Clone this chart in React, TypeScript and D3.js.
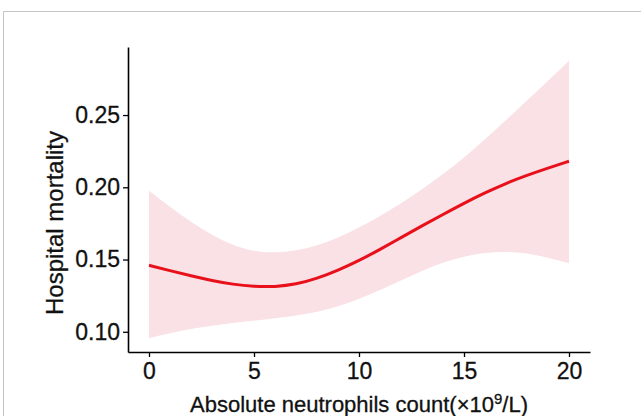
import React, { useEffect, useRef } from "react";
import * as d3 from "d3";

// neutrophil count (x10^9/L)
const counts = [0, 1, 2, 3, 4, 5, 6, 7, 8, 9, 10, 11, 12, 13, 14, 15, 16, 17, 18, 19, 20];
// fitted hospital mortality
const fitted = [0.146, 0.1423, 0.1387, 0.1354, 0.1328, 0.1313, 0.1311, 0.1328, 0.1368, 0.1425, 0.1492, 0.157, 0.1652, 0.1733, 0.1812, 0.189, 0.1962, 0.2028, 0.2083, 0.2133, 0.218];
// 95% CI
const lower = [0.0956, 0.0992, 0.102, 0.1043, 0.1062, 0.1077, 0.1093, 0.1112, 0.1137, 0.1174, 0.1228, 0.1288, 0.1355, 0.1423, 0.148, 0.1523, 0.1548, 0.1556, 0.1545, 0.1515, 0.1474];
const upper = [0.1976, 0.1865, 0.176, 0.1668, 0.1598, 0.1556, 0.1546, 0.156, 0.1595, 0.165, 0.172, 0.18, 0.1888, 0.1985, 0.209, 0.2205, 0.233, 0.2465, 0.26, 0.2738, 0.2875];

const xTicks = [0, 5, 10, 15, 20];
const yTicks = [0.1, 0.15, 0.2, 0.25];

const W = 641;
const H = 416;
const FONT = "'Liberation Sans', Arial, sans-serif";

export default function App() {
  const svgRef = useRef<SVGSVGElement>(null);

  useEffect(() => {
    const svg = d3.select(svgRef.current);
    svg.selectAll("*").remove();

    const left = 128;
    const right = 590;
    const top = 47;
    const bottom = 352;

    // ggplot style 5% expansion
    const xr = d3.extent(counts) as [number, number];
    const xPad = (xr[1] - xr[0]) * 0.05;
    const x = d3.scaleLinear().domain([xr[0] - xPad, xr[1] + xPad]).range([left, right]);

    const yMin = d3.min(lower) as number;
    const yMax = d3.max(upper) as number;
    const yPad = (yMax - yMin) * 0.05;
    const y = d3.scaleLinear().domain([yMin - yPad, yMax + yPad]).range([bottom, top]);

    const rows = counts.map((c, i) => ({ c, f: fitted[i], lo: lower[i], hi: upper[i] }));

    // frame around the figure
    svg
      .append("path")
      .attr("d", `M3.5,${H}V11.5H${W}`)
      .attr("fill", "none")
      .attr("stroke", "#c4c4c4")
      .attr("stroke-width", 1);

    const band = d3
      .area<any>()
      .x((d) => x(d.c))
      .y0((d) => y(d.lo))
      .y1((d) => y(d.hi))
      .curve(d3.curveBasis);

    svg.append("path").datum(rows).attr("d", band).attr("fill", "#f9e1e5");

    const line = d3
      .line<any>()
      .x((d) => x(d.c))
      .y((d) => y(d.f))
      .curve(d3.curveBasis);

    svg
      .append("path")
      .datum(rows)
      .attr("d", line)
      .attr("fill", "none")
      .attr("stroke", "#e8101a")
      .attr("stroke-width", 3);

    const styleText = (sel: any, size: number) =>
      sel
        .attr("font-family", FONT)
        .attr("font-size", size)
        .attr("fill", "#111")
        .attr("stroke", "#111")
        .attr("stroke-width", 0.3);

    // x axis
    const xAxis = d3.axisBottom(x).tickValues(xTicks).tickSize(5).tickSizeOuter(0).tickPadding(6);
    const gx = svg.append("g").attr("transform", `translate(0,${bottom})`).call(xAxis);
    gx.select(".domain").attr("stroke-width", 1.6);
    gx.selectAll(".tick line").attr("stroke-width", 1.3);
    styleText(gx.selectAll(".tick text"), 23);

    // y axis
    const yAxis = d3
      .axisLeft(y)
      .tickValues(yTicks)
      .tickFormat(d3.format(".2f"))
      .tickSize(5)
      .tickSizeOuter(0)
      .tickPadding(3);
    const gy = svg.append("g").attr("transform", `translate(${left},0)`).call(yAxis);
    gy.select(".domain").attr("stroke-width", 1.6);
    gy.selectAll(".tick line").attr("stroke-width", 1.3);
    styleText(gy.selectAll(".tick text"), 23);

    // axis titles
    const title = svg
      .append("text")
      .attr("x", (left + right) / 2)
      .attr("y", 412)
      .attr("text-anchor", "middle");
    styleText(title, 22);
    title.append("tspan").text("Absolute neutrophils count(×10");
    title.append("tspan").attr("font-size", 15).attr("dy", -8).text("9");
    title.append("tspan").attr("dy", 8).text("/L)");

    const ylab = svg
      .append("text")
      .attr("transform", `translate(63,223) rotate(-90)`)
      .attr("text-anchor", "middle")
      .text("Hospital mortality");
    styleText(ylab, 24);
  }, []);

  return (
    <svg
      ref={svgRef}
      width={W}
      height={H}
      style={{ position: "absolute", left: 0, top: 0, background: "#fff" }}
    />
  );
}
